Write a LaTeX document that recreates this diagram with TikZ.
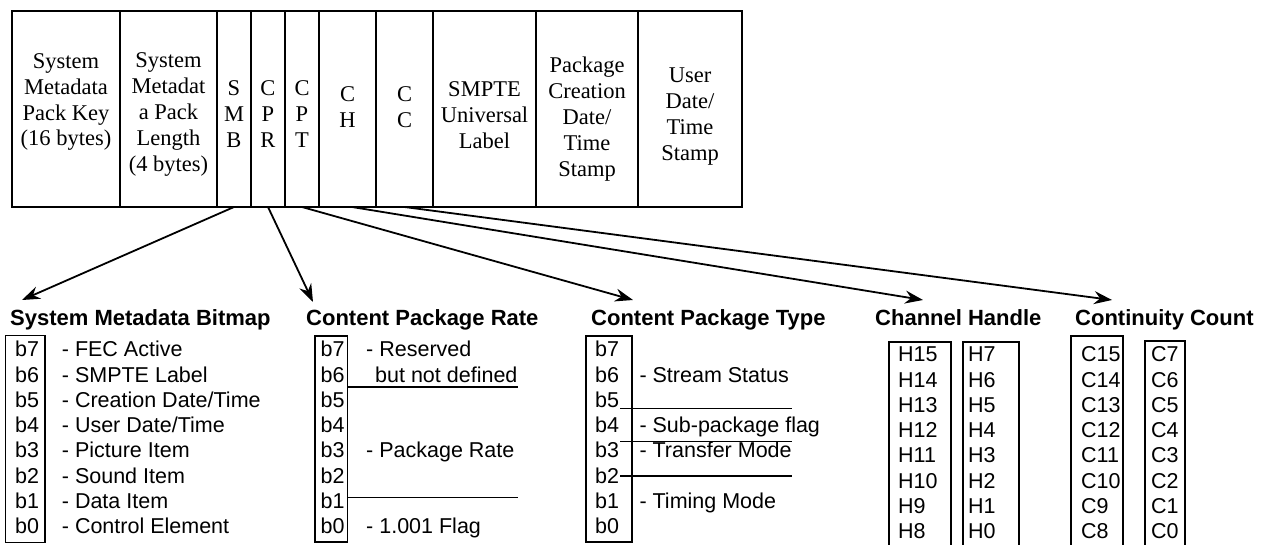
\documentclass[tikz,border=0pt]{standalone}
\usepackage{fontspec}
\setmainfont{Liberation Serif}
\setsansfont{Liberation Sans}
\usetikzlibrary{arrows.meta}
\begin{document}
\begin{tikzpicture}[x=1pt,y=-1pt,
  field/.style={draw, line width=1.6pt, anchor=north west, inner sep=0pt, outer sep=0pt, minimum height=196pt},
  ftext/.style={font=\fontsize{22.5}{25.8}\selectfont, align=center, anchor=base, inner sep=0pt},
  ttl/.style={font=\sffamily\bfseries\fontsize{22}{26}\selectfont, anchor=base west, inner sep=0pt},
  bit/.style={font=\sffamily\fontsize{21.5}{25.3}\selectfont, anchor=base west, inner sep=0pt},
  bbox/.style={draw, line width=1.2pt, anchor=north west, inner sep=0pt, outer sep=0pt},
  sepline/.style={line width=1.2pt},
  openbox/.style={line width=1.2pt},
  arr/.style={line width=1.8pt, -{Stealth[length=18pt,width=13pt,inset=6pt]}}
]
\useasboundingbox (0,0) rectangle (1263,545);

% top fields
\node[field, minimum width=108pt] (pk)  at (12,11) {};
\node[field, minimum width=97pt]  (pl)  at (120,11) {};
\node[field, minimum width=34pt]  (smb) at (217,11) {};
\node[field, minimum width=34pt]  (cpr) at (251,11) {};
\node[field, minimum width=34pt]  (cpt) at (285,11) {};
\node[field, minimum width=57pt]  (ch)  at (319,11) {};
\node[field, minimum width=57pt]  (cc)  at (376,11) {};
\node[field, minimum width=103pt] (ul)  at (433,11) {};
\node[field, minimum width=102pt] (pc)  at (536,11) {};
\node[field, minimum width=104pt] (ud)  at (638,11) {};

% (anchor base = baseline of the last line)
\node[ftext] (pkt)  at (66,146)     {System\\Metadata\\Pack Key\\(16 bytes)};
\node[ftext] (plt)  at (168.5,171.2) {System\\Metadat\\a Pack\\Length\\(4 bytes)};
\node[ftext] (smbt) at (234,147.6)  {S\\M\\B};
\node[ftext] (cprt) at (268,147.6)  {C\\P\\R};
\node[ftext] (cptt) at (302,147.6)  {C\\P\\T};
\node[ftext] (cht)  at (347.5,127.8) {C\\H};
\node[ftext] (cct)  at (404.5,127.8) {C\\C};
\node[ftext] (ult)  at (484.5,148.6) {SMPTE\\Universal\\Label};
\node[ftext] (pct)  at (587,176.2)  {Package\\Creation\\Date/\\Time\\Stamp};
\node[ftext] (udt)  at (690,160.4)  {User\\Date/\\Time\\Stamp};

% titles
\node[ttl] (t1) at (10,325)   {System Metadata Bitmap};
\node[ttl] (t2) at (306,325)  {Content Package Rate};
\node[ttl] (t3) at (591,325)  {Content Package Type};
\node[ttl] (t4) at (875,325)  {Channel Handle};
\node[ttl] (t5) at (1075,325) {Continuity Count};

% arrow targets
\coordinate (a1) at (22,300);
\coordinate (a2) at (313,302);
\coordinate (a3) at (633,300);
\coordinate (a4) at (923,300);
\coordinate (a5) at (1112,300);
\draw[arr] (smb.south) -- (a1);
\draw[arr] (cpr.south) -- (a2);
\draw[arr] (cpt.south) -- (a3);
\draw[arr] ([xshift=4.5pt]ch.south) -- (a4);
\draw[arr] (cc.south) -- (a5);

% System Metadata Bitmap
\node[bbox, minimum width=39.3pt, minimum height=206.6pt] (smbb) at (5.7,335.7) {};
\foreach \t [count=\i from 0] in {FEC Active,SMPTE Label,Creation Date/Time,User Date/Time,Picture Item,Sound Item,Data Item,Control Element}{
  \pgfmathtruncatemacro{\k}{7-\i}
  \node[bit] (smbb\k) at (15,356.7+25.3*\i) {b\k};
  \node[bit] (smbd\k) at (61.7,356.7+25.3*\i) {- \t};
}

% Content Package Rate
\node[bbox, minimum width=32.3pt, minimum height=206pt] (cprb) at (315,336) {};
\foreach \i in {0,...,7}{
  \pgfmathtruncatemacro{\k}{7-\i}
  \node[bit] (cprb\k) at (320.5,356.7+25.3*\i) {b\k};
}
\node[bit] (cprd1) at (366,356.7) {- Reserved};
\node[bit] (cprd2) at (375,382)   {but not defined};
\node[bit] (cprd3) at (366,457.9) {- Package Rate};
\node[bit] (cprd4) at (366,533.8) {- 1.001 Flag};
\draw[sepline] (347.3,387) -- (518,387);
\draw[sepline] (347.3,497.7) -- (518,497.7);

% Content Package Type
\node[bbox, minimum width=46pt, minimum height=206pt] (cptb) at (586,336) {};
\foreach \i in {0,...,7}{
  \pgfmathtruncatemacro{\k}{7-\i}
  \node[bit] (cptb\k) at (595,356.7+25.3*\i) {b\k};
}
\node[bit] (cptd1) at (639.3,382)   {- Stream Status};
\node[bit] (cptd2) at (639.3,432.6) {- Sub-package flag};
\node[bit] (cptd3) at (639.3,457.9) {- Transfer Mode};
\node[bit] (cptd4) at (639.3,508.5) {- Timing Mode};
\draw[sepline] (620,408.3) -- (792,408.3);
\draw[sepline] (620,441.7) -- (792,441.7);
\draw[sepline] (620,476) -- (792,476);

% Channel Handle
\draw[openbox] (889,546) -- (889,342) -- (951,342) -- (951,546);
\draw[openbox] (963,546) -- (963,342) -- (1019,342) -- (1019,546);
% Continuity Count
\draw[openbox] (1071,546) -- (1071,336) -- (1123,336) -- (1123,546);
\draw[openbox] (1145,546) -- (1145,341) -- (1185,341) -- (1185,546);
\foreach \i in {0,...,7}{
  \pgfmathtruncatemacro{\k}{7-\i}
  \pgfmathtruncatemacro{\kk}{15-\i}
  \node[bit] (hh\kk) at (898,361.7+25.3*\i)  {H\kk};
  \node[bit] (hl\k)  at (968,361.7+25.3*\i)  {H\k};
  \node[bit] (ch\kk) at (1081,361.7+25.3*\i) {C\kk};
  \node[bit] (cl\k)  at (1151,361.7+25.3*\i) {C\k};
}
\end{tikzpicture}
\end{document}
